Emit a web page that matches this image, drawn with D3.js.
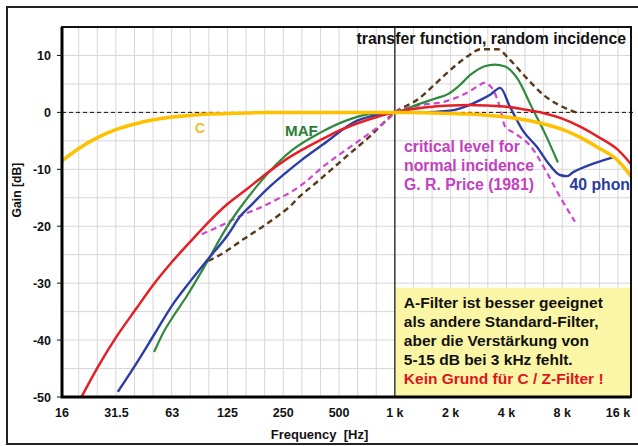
<!DOCTYPE html>
<html>
<head>
<meta charset="utf-8">
<script src="https://cdn.jsdelivr.net/npm/d3@7"></script>
<style>
  body { margin: 0; background: #fff; }
  text { font-family: 'Liberation Sans', Arial, sans-serif; font-weight: bold; }
</style>
</head>
<body>
<div id="chart"></div>
<script>
// Data

const tickFreqs = [16, 31.5, 63, 125, 250, 500, 1000, 2000, 4000, 8000, 16000]
const tickLabels = ['16', '31.5', '63', '125', '250', '500', '1 k', '2 k', '4 k', '8 k', '16 k']
const gainTicks = [10, 0, -10, -20, -30, -40, -50]

// C filter
const freqC = [16, 20, 25, 31.5, 40, 50, 63, 80, 100, 125, 160, 200, 250, 500, 1000, 1250, 1600, 2000, 2500, 3150, 4000, 5000, 6300, 8000, 10000, 12500, 16000, 18800]
const gainC = [-8.5, -6.2, -4.4, -3.0, -2.0, -1.3, -0.8, -0.5, -0.3, -0.2, -0.1, 0, 0, 0, 0, 0, -0.1, -0.2, -0.3, -0.5, -0.8, -1.3, -2.0, -3.0, -4.4, -6.2, -8.5, -11.2]

// A filter
const freqA = [20, 25, 31.5, 40, 50, 63, 80, 100, 125, 160, 200, 250, 315, 400, 500, 630, 800, 1000, 1250, 1600, 2000, 2500, 3150, 4000, 5000, 6300, 8000, 10000, 12500, 16000, 18800]
const gainA = [-50.5, -44.7, -39.4, -34.6, -30.2, -26.2, -22.5, -19.1, -16.1, -13.4, -10.9, -8.6, -6.6, -4.8, -3.2, -1.9, -0.8, 0, 0.6, 1.0, 1.2, 1.3, 1.2, 1.0, 0.5, -0.1, -1.1, -2.5, -4.3, -6.6, -9.1]

// MAF
const freqMAF = [50.2, 56.3, 63.8, 75.3, 96.5, 123.8, 146, 179.7, 240, 280, 394, 550, 705, 1000, 1333, 1640, 1935, 2190, 2584, 3051, 3456, 3912, 4615, 5443, 6432, 7585]
const gainMAF = [-42.1, -38.7, -35.8, -32.3, -26.4, -20.2, -16.8, -13, -8.5, -6.6, -3.6, -1.4, -0.4, 0, 1.4, 2.4, 3.2, 4.5, 6.7, 8.1, 8.4, 8.1, 5.8, 1.1, -3.6, -8.8]

// 40 phon
const freqPhon = [32, 40.5, 50.8, 63.8, 79.1, 98.1, 126.3, 146, 165.3, 212, 271.7, 307.6, 411, 622, 831, 1000, 1366, 1983, 2480, 2900, 3300, 3700, 4178, 4928, 5821, 6869, 7777, 8500, 9173, 11760, 15070]
const gainPhon = [-49.1, -44.0, -38.8, -33.6, -29.6, -25.8, -21.4, -18.3, -16.5, -13, -10, -8.6, -5.6, -1.5, -0.35, 0, 0, 0.3, 1.2, 2.2, 3.2, 4.3, 1.0, -3.3, -6.0, -9.3, -11.0, -11.2, -10.5, -9.0, -7.9]

// critical level, normal incidence (Price 1981)
const freqPrice = [90.8, 118.7, 146, 195, 240, 271.7, 327, 394, 550, 734, 941, 1000, 1333, 1856, 2403, 2808, 3026, 3320, 3681, 3926, 4501, 5356, 6618, 7777, 9371]
const gainPrice = [-21.4, -19.7, -18.2, -16.5, -15, -14.1, -12.3, -10, -6.5, -3.6, -0.9, 0, 1.2, 1.9, 3.3, 4.6, 5.2, 4.4, 1.0, -2.4, -3.8, -5.8, -10.6, -14.8, -19.2]

// transfer function, random incidence
const freqTrans = [98.5, 118.7, 152, 195, 240, 271.7, 295, 394, 550, 734, 1000, 1333, 1640, 2016, 2480, 2925, 3600, 4077, 5014, 6432, 7904, 9520]
const gainTrans = [-26.1, -24.7, -22.3, -20, -17.9, -16.5, -15.3, -11.8, -7.7, -4.2, 0, 2.3, 4.9, 7.6, 9.9, 11.1, 11.1, 9.6, 6.4, 2.9, 1.1, 0]

const boxText = ['A-Filter ist besser geeignet', 'als andere Standard-Filter,', 'aber die Verstärkung von', '5-15 dB bei 3 kHz fehlt.']
const boxTextRed = 'Kein Grund für C / Z-Filter !'
const priceText = ['critical level for', 'normal incidence', 'G. R. Price (1981)']

const margin = { top: 27, left: 62, right: 7, bottom: 49 }
const width = 638 - margin.left - margin.right
const height = 446 - margin.top - margin.bottom

const root = d3
  .select('#chart')
  .append('svg')
  .attr('width', 638)
  .attr('height', 446)

// outer frame
root
  .append('rect')
  .attr('x', 7)
  .attr('y', 7)
  .attr('width', 650)
  .attr('height', 437)
  .attr('fill', 'none')
  .attr('stroke', '#222')
  .attr('stroke-width', 2)

const svg = root
  .append('g')
  .attr('transform', 'translate(' + margin.left + ',' + margin.top + ')')

const xPositionScale = d3.scaleLog().domain([16, 18800]).range([0, width])
const yPositionScale = d3.scaleLinear().domain([-50, 15]).range([height, 0])

svg
  .append('clipPath')
  .attr('id', 'plot-clip')
  .append('rect')
  .attr('width', width)
  .attr('height', height)

// grid: third octaves and every 5 dB
const gridFreqs = d3.range(-17, 13).map(k => 1000 * Math.pow(2, k / 3))
svg
  .selectAll('.vgrid')
  .data(gridFreqs)
  .enter()
  .append('line')
  .attr('x1', d => xPositionScale(d))
  .attr('x2', d => xPositionScale(d))
  .attr('y1', 0)
  .attr('y2', height)
  .attr('stroke', '#d6d6d6')
  .attr('stroke-width', 1)

svg
  .selectAll('.hgrid')
  .data(d3.range(-45, 15, 5))
  .enter()
  .append('line')
  .attr('x1', 0)
  .attr('x2', width)
  .attr('y1', d => yPositionScale(d))
  .attr('y2', d => yPositionScale(d))
  .attr('stroke', '#d6d6d6')
  .attr('stroke-width', 1)

// 0 dB dashed line
svg
  .append('line')
  .attr('x1', 0)
  .attr('x2', width + 5)
  .attr('y1', yPositionScale(0))
  .attr('y2', yPositionScale(0))
  .attr('stroke', '#111')
  .attr('stroke-width', 1)
  .attr('stroke-dasharray', '4,3')

// yellow note box
const boxTop = yPositionScale(-30.8)
svg
  .append('rect')
  .attr('x', xPositionScale(1000))
  .attr('y', boxTop)
  .attr('width', width - xPositionScale(1000))
  .attr('height', height - boxTop)
  .attr('fill', '#fbf6a6')

boxText.concat([boxTextRed]).forEach(function(t, i) {
  svg
    .append('text')
    .attr('x', xPositionScale(1000) + 9)
    .attr('y', boxTop + 20 + i * 19)
    .attr('font-size', 15.5)
    .attr('fill', i === 4 ? '#e0141e' : '#111')
    .text(t)
})

// 1 kHz line
svg
  .append('line')
  .attr('x1', xPositionScale(1000))
  .attr('x2', xPositionScale(1000))
  .attr('y1', 0)
  .attr('y2', height)
  .attr('stroke', '#111')
  .attr('stroke-width', 1.2)

// curves
const series = [
  { f: freqTrans, g: gainTrans, color: '#5a391b', w: 2.4, dash: '6,4' },
  { f: freqPrice, g: gainPrice, color: '#cc47cc', w: 2.2, dash: '6,4' },
  { f: freqMAF, g: gainMAF, color: '#2f8a3e', w: 2.2 },
  { f: freqPhon, g: gainPhon, color: '#2c3ea6', w: 2.4 },
  { f: freqA, g: gainA, color: '#e41f26', w: 2.5 },
  { f: freqC, g: gainC, color: '#ffc000', w: 3.5 }
]

const line = d3
  .line()
  .x(d => xPositionScale(d[0]))
  .y(d => yPositionScale(d[1]))
  .curve(d3.curveMonotoneX)

const curves = svg.append('g').attr('clip-path', 'url(#plot-clip)')
series.forEach(function(s) {
  curves
    .append('path')
    .datum(d3.zip(s.f, s.g))
    .attr('d', line)
    .attr('fill', 'none')
    .attr('stroke', s.color)
    .attr('stroke-width', s.w)
    .attr('stroke-dasharray', s.dash || null)
})

// frame
svg
  .append('rect')
  .attr('width', width)
  .attr('height', height)
  .attr('fill', 'none')
  .attr('stroke', '#111')
  .attr('stroke-width', 2)

svg
  .append('path')
  .attr('d', 'M0,0V' + height + 'H' + width)
  .attr('fill', 'none')
  .attr('stroke', '#000')
  .attr('stroke-width', 3)

// axes labels
svg
  .selectAll('.ytick')
  .data(gainTicks)
  .enter()
  .append('text')
  .attr('x', -11)
  .attr('y', d => yPositionScale(d) + 4.5)
  .attr('text-anchor', 'end')
  .attr('font-size', 12.5)
  .attr('fill', '#111')
  .text(d => d)

svg
  .selectAll('.ytickmark')
  .data(gainTicks)
  .enter()
  .append('line')
  .attr('x1', -5)
  .attr('x2', 0)
  .attr('y1', d => yPositionScale(d))
  .attr('y2', d => yPositionScale(d))
  .attr('stroke', '#111')
  .attr('stroke-width', 1)

svg
  .selectAll('.xtick')
  .data(tickFreqs)
  .enter()
  .append('text')
  .attr('x', d => xPositionScale(d))
  .attr('y', height + 20)
  .attr('text-anchor', 'middle')
  .attr('font-size', 12.5)
  .attr('fill', '#111')
  .text((d, i) => tickLabels[i])

svg
  .append('text')
  .attr('x', width / 2 - 27)
  .attr('y', height + 42)
  .attr('text-anchor', 'middle')
  .attr('font-size', 13)
  .attr('fill', '#111')
  .style('white-space', 'pre')
  .text('Frequency  [Hz]')

svg
  .append('text')
  .attr('transform', 'translate(-41,163) rotate(-90)')
  .attr('text-anchor', 'middle')
  .attr('font-size', 12.2)
  .attr('fill', '#111')
  .text('Gain [dB]')

// curve labels
svg
  .append('text')
  .attr('x', width - 5)
  .attr('y', 17)
  .attr('text-anchor', 'end')
  .attr('font-size', 15.8)
  .attr('fill', '#111')
  .text('transfer function, random incidence')

svg
  .append('text')
  .attr('x', 133)
  .attr('y', 106)
  .attr('font-size', 14)
  .attr('fill', '#eec02a')
  .text('C')

svg
  .append('text')
  .attr('x', 223)
  .attr('y', 109)
  .attr('font-size', 15.2)
  .attr('fill', '#2a7d37')
  .text('MAF')

priceText.forEach(function(t, i) {
  svg
    .append('text')
    .attr('x', 342)
    .attr('y', 125 + i * 19)
    .attr('font-size', 15.8)
    .attr('fill', '#c341c0')
    .text(t)
})

svg
  .append('text')
  .attr('x', width - 1)
  .attr('y', 163)
  .attr('text-anchor', 'end')
  .attr('font-size', 15.8)
  .attr('fill', '#2b3b9c')
  .text('40 phon')
</script>
</body>
</html>
